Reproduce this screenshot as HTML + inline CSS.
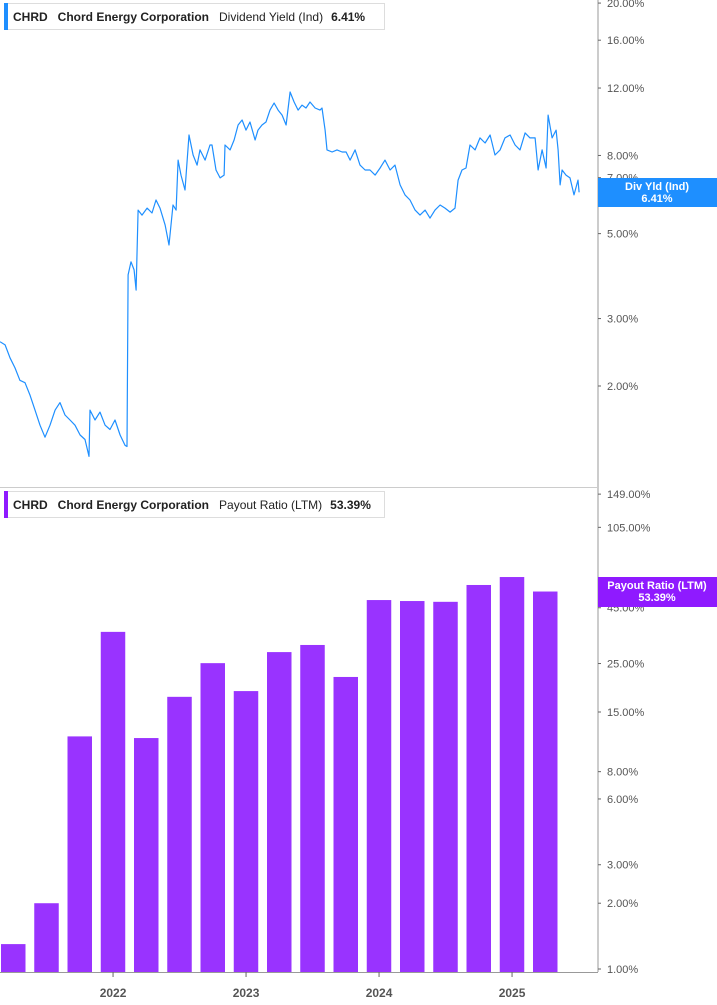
<!DOCTYPE html>
<html><head><meta charset="utf-8">
<style>
body{margin:0;background:#fff;font-family:"Liberation Sans",sans-serif;}
svg{display:block}
</style></head>
<body>
<svg id="chart" width="717" height="1005" viewBox="0 0 717 1005" xmlns="http://www.w3.org/2000/svg" font-family="Liberation Sans, sans-serif"></svg>
<script>
// ---- data ----
const yieldDates=[2021.150,2021.188,2021.225,2021.263,2021.300,2021.338,2021.376,2021.413,2021.451,2021.488,2021.526,2021.564,2021.601,2021.639,2021.676,2021.714,2021.752,2021.789,2021.819,2021.827,2021.864,2021.902,2021.940,2021.977,2022.015,2022.053,2022.090,2022.105,2022.113,2022.135,2022.158,2022.173,2022.188,2022.218,2022.256,2022.293,2022.323,2022.353,2022.391,2022.421,2022.451,2022.474,2022.489,2022.511,2022.541,2022.571,2022.602,2022.632,2022.654,2022.692,2022.729,2022.744,2022.774,2022.805,2022.835,2022.842,2022.880,2022.910,2022.940,2022.970,2023.000,2023.030,2023.068,2023.090,2023.120,2023.150,2023.180,2023.211,2023.241,2023.271,2023.301,2023.331,2023.361,2023.391,2023.421,2023.451,2023.481,2023.519,2023.556,2023.571,2023.594,2023.609,2023.647,2023.684,2023.722,2023.752,2023.782,2023.820,2023.857,2023.895,2023.932,2023.970,2024.008,2024.045,2024.083,2024.120,2024.158,2024.195,2024.233,2024.271,2024.308,2024.346,2024.383,2024.421,2024.459,2024.496,2024.534,2024.571,2024.594,2024.624,2024.654,2024.684,2024.722,2024.759,2024.797,2024.835,2024.872,2024.910,2024.947,2024.985,2025.023,2025.060,2025.098,2025.135,2025.173,2025.196,2025.226,2025.256,2025.271,2025.301,2025.331,2025.346,2025.361,2025.376,2025.406,2025.436,2025.466,2025.496,2025.504];
const yieldValues=[2.61,2.56,2.37,2.23,2.07,2.04,1.89,1.73,1.58,1.47,1.58,1.73,1.81,1.68,1.63,1.58,1.49,1.45,1.31,1.73,1.63,1.71,1.58,1.54,1.63,1.49,1.40,1.39,3.90,4.22,4.02,3.56,5.76,5.59,5.83,5.66,6.12,5.83,5.27,4.67,5.94,5.76,7.78,7.11,6.50,9.05,8.02,7.55,8.27,7.78,8.52,8.52,7.33,6.99,7.11,8.52,8.27,8.78,9.61,9.90,9.32,9.78,8.78,9.32,9.61,9.78,10.51,10.97,10.51,10.20,9.61,11.72,11.03,10.51,10.83,10.64,11.03,10.64,10.51,10.64,9.32,8.27,8.17,8.27,8.17,8.17,7.78,8.27,7.55,7.33,7.33,7.11,7.42,7.78,7.33,7.55,6.70,6.31,6.12,5.76,5.59,5.76,5.49,5.76,5.94,5.83,5.69,5.83,6.90,7.33,7.42,8.52,8.27,8.89,8.62,9.05,8.02,8.27,8.89,9.05,8.52,8.27,9.16,8.89,8.89,7.33,8.27,7.42,10.20,8.89,9.32,8.27,6.70,7.33,7.11,6.99,6.31,6.90,6.41];
const payoutQuarters=["2021Q2","2021Q3","2021Q4","2022Q1","2022Q2","2022Q3","2022Q4","2023Q1","2023Q2","2023Q3","2023Q4","2024Q1","2024Q2","2024Q3","2024Q4","2025Q1","2025Q2"];
const payoutValues=[1.30,2.0,11.6,34.9,11.4,17.6,25.1,18.7,28.2,30.4,21.7,48.8,48.3,47.9,57.2,62.2,53.39];
const yieldTicks=[20,16,12,8,7,5,3,2];
const payoutTicks=[149,105,45,25,15,8,6,3,2,1];
const yearLabels=[2022,2023,2024,2025];

// ---- scales ----
const NS="http://www.w3.org/2000/svg";
const svg=document.getElementById('chart');
const AX=598;
const xS=t=>(t-2021.150)*133;
const yTop=v=>386-166.3*Math.log(v/2);
const yBot=v=>969-94.9*Math.log(v);
function mk(tag,attrs,parent){const e=document.createElementNS(NS,tag);for(const k in attrs)e.setAttribute(k,attrs[k]);(parent||svg).appendChild(e);return e;}

// frame
let f=mk('line',{x1:AX,y1:0,x2:AX,y2:972,stroke:'#999','stroke-width':1});


f=mk('line',{x1:0,y1:487.5,x2:AX,y2:487.5,stroke:'#ccc','stroke-width':1});


f=mk('line',{x1:0,y1:972.5,x2:AX,y2:972.5,stroke:'#999','stroke-width':1});



// top ticks
yieldTicks.forEach(v=>{const y=yTop(v);
 const tk=mk('line',{x1:AX,y1:y,x2:AX+3,y2:y,stroke:'#666'});
 
 
 const t=mk('text',{x:607,y:y+4,'font-size':11,fill:'#555'});t.textContent=v.toFixed(2)+'%';
 
 });
payoutTicks.forEach(v=>{const y=yBot(v);
 const tk=mk('line',{x1:AX,y1:y,x2:AX+3,y2:y,stroke:'#666'});
 
 
 const t=mk('text',{x:607,y:y+4,'font-size':11,fill:'#555'});t.textContent=v.toFixed(2)+'%';
 
 });

// bars
payoutQuarters.forEach((q,i)=>{const yr=+q.slice(0,4),qn=+q.slice(5);
 const c=xS(yr+(qn-1)*0.25);const top=yBot(payoutValues[i]);
 const b=mk('rect',{x:c-12.3,y:top,width:24.5,height:972-top,fill:'#9933ff'});
 
 });

// line
const pts=yieldDates.map((d,i)=>xS(d).toFixed(1)+','+yTop(yieldValues[i]).toFixed(1)).join(' ');
const pl=mk('polyline',{points:pts,fill:'none',stroke:'#1e8fff','stroke-width':1.2,'stroke-linejoin':'round'});



// year labels
yearLabels.forEach(yr=>{const x=xS(yr);
 const tk=mk('line',{x1:x,y1:972,x2:x,y2:977,stroke:'#666'});
 
 
 const t=mk('text',{x:x,y:997,'font-size':12,'font-weight':'bold',fill:'#555','text-anchor':'middle'});t.textContent=yr;
 
 });

// price tags
function tag(y,h,color,l1,l2,name){const g=mk('g',{});
 
 
 mk('rect',{x:AX,y:y,width:119,height:h,fill:color},g);
 let t=mk('text',{x:657,y:y+12,'font-size':11,'font-weight':'bold',fill:'#fff','text-anchor':'middle'},g);t.textContent=l1;
 t=mk('text',{x:657,y:y+24,'font-size':11,'font-weight':'bold',fill:'#fff','text-anchor':'middle'},g);t.textContent=l2;}
tag(178,29,'#1e8fff','Div Yld (Ind)','6.41%','yield-price-tag');
tag(577,30,'#8f1aff','Payout Ratio (LTM)','53.39%','payout-price-tag');

// legends
function legend(y,color,label,val,name){const g=mk('g',{});
 
 
 mk('rect',{x:4.5,y:y+0.5,width:380,height:26,fill:'#fff',stroke:'#ddd'},g);
 mk('rect',{x:4,y:y,width:4,height:27,fill:color},g);
 let t=mk('text',{x:13,y:y+18,'font-size':12,fill:'#222'},g);
 t.innerHTML='<tspan font-weight="bold">CHRD</tspan><tspan dx="10" font-weight="bold">Chord Energy Corporation</tspan><tspan dx="10">'+label+'</tspan><tspan dx="8" font-weight="bold">'+val+'</tspan>';}
legend(3,'#1e8fff','Dividend Yield (Ind)','6.41%','yield-legend');
legend(491,'#8f1aff','Payout Ratio (LTM)','53.39%','payout-legend');
</script>
</body></html>
